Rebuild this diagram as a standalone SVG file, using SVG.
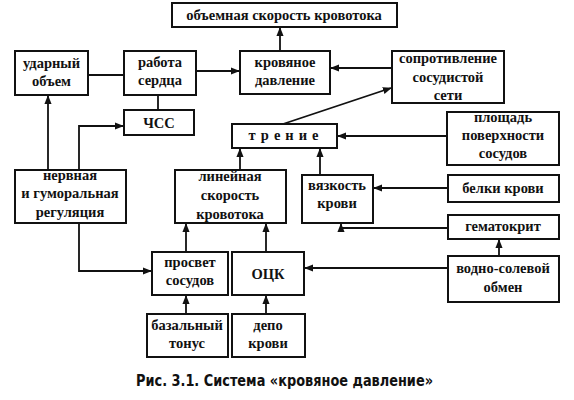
<svg xmlns="http://www.w3.org/2000/svg" width="574" height="400" viewBox="0 0 574 400">
<style>
.box{fill:#fff;stroke:#111;stroke-width:2}
.t{font-family:'Liberation Serif',serif;font-weight:700;font-size:14.5px;fill:#111;text-anchor:middle}
.c{fill:none;stroke:#111;stroke-width:1.8}
.cap{font-family:'DejaVu Sans Condensed','DejaVu Sans',sans-serif;font-size:15px;fill:#111}
</style>
<defs>
<marker id="a" viewBox="0 0 10 10" refX="9" refY="5" markerWidth="5" markerHeight="5" orient="auto" markerUnits="strokeWidth">
<path d="M0,1 L10,5 L0,9 z" fill="#111"/>
</marker>
</defs>
<rect width="574" height="400" fill="#fff"/>
<g id="connectors">
<path class="c" d="M280,51 V28" marker-end="url(#a)"/>
<path class="c" d="M88,75 H124"/>
<path class="c" d="M196,71 H239" marker-end="url(#a)"/>
<path class="c" d="M392,68 H331" marker-end="url(#a)"/>
<path class="c" d="M158,95 V110"/>
<path class="c" d="M79,170 V126 H123" marker-end="url(#a)"/>
<path class="c" d="M48,170 V96" marker-end="url(#a)"/>
<path class="c" d="M283,124 L391,88" marker-end="url(#a)"/>
<path class="c" d="M447,136 H338" marker-end="url(#a)"/>
<path class="c" d="M240,170 V149" marker-end="url(#a)"/>
<path class="c" d="M320,175 V149" marker-end="url(#a)"/>
<path class="c" d="M448,188 H374" marker-end="url(#a)"/>
<path class="c" d="M448,228 H341 V224" marker-end="url(#a)"/>
<path class="c" d="M499,256 V240" marker-end="url(#a)"/>
<path class="c" d="M448,268 H305" marker-end="url(#a)"/>
<path class="c" d="M186,252 V224" marker-end="url(#a)"/>
<path class="c" d="M266,252 V224" marker-end="url(#a)"/>
<path class="c" d="M79,224 V271 H151" marker-end="url(#a)"/>
<path class="c" d="M186,314 V296" marker-end="url(#a)"/>
<path class="c" d="M266,314 V296" marker-end="url(#a)"/>
</g>
<g id="n-flow"><rect class="box" x="172" y="3" width="225" height="24"/><text class="t" x="284" y="20">объемная скорость кровотока</text></g>
<g id="n-stroke"><rect class="box" x="15" y="51" width="73" height="44"/><text class="t" x="51.5" y="68">ударный</text><text class="t" x="51.5" y="86">объем</text></g>
<g id="n-heart"><rect class="box" x="124" y="51" width="72" height="44"/><text class="t" x="160" y="67">работа</text><text class="t" x="160" y="85">сердца</text></g>
<g id="n-bp"><rect class="box" x="240" y="51" width="90" height="43"/><text class="t" x="285" y="67">кровяное</text><text class="t" x="285" y="85">давление</text></g>
<g id="n-res"><rect class="box" x="392" y="51" width="112" height="52"/><text class="t" x="448" y="63">сопротивление</text><text class="t" x="448" y="82">сосудистой</text><text class="t" x="448" y="100">сети</text></g>
<g id="n-hr"><rect class="box" x="124" y="110" width="70" height="25"/><text class="t" x="159" y="128">ЧСС</text></g>
<g id="n-fric"><rect class="box" x="232" y="124" width="105" height="24"/><text class="t" x="286" y="140" letter-spacing="5">трение</text></g>
<g id="n-area"><rect class="box" x="447" y="112" width="112" height="53"/><text class="t" x="503" y="122">площадь</text><text class="t" x="503" y="140">поверхности</text><text class="t" x="503" y="158">сосудов</text></g>
<g id="n-reg"><rect class="box" x="15" y="170" width="111" height="53"/><text class="t" x="70" y="180">нервная</text><text class="t" x="70" y="198">и гуморальная</text><text class="t" x="70" y="217">регуляция</text></g>
<g id="n-lin"><rect class="box" x="175" y="170" width="111" height="53"/><text class="t" x="230" y="181">линейная</text><text class="t" x="230" y="200">скорость</text><text class="t" x="230" y="219">кровотока</text></g>
<g id="n-visc"><rect class="box" x="302" y="175" width="71" height="48"/><text class="t" x="337" y="190">вязкость</text><text class="t" x="337" y="208">крови</text></g>
<g id="n-prot"><rect class="box" x="448" y="175" width="111" height="27"/><text class="t" x="503" y="193">белки крови</text></g>
<g id="n-hct"><rect class="box" x="448" y="215" width="111" height="24"/><text class="t" x="503" y="231">гематокрит</text></g>
<g id="n-water"><rect class="box" x="448" y="256" width="111" height="46"/><text class="t" x="503" y="273">водно-солевой</text><text class="t" x="503" y="292">обмен</text></g>
<g id="n-lumen"><rect class="box" x="152" y="252" width="76" height="43"/><text class="t" x="190" y="267">просвет</text><text class="t" x="190" y="285">сосудов</text></g>
<g id="n-ocv"><rect class="box" x="232" y="252" width="72" height="43"/><text class="t" x="268" y="279" font-size="17">ОЦК</text></g>
<g id="n-basal"><rect class="box" x="147" y="314" width="81" height="43"/><text class="t" x="187" y="330">базальный</text><text class="t" x="187" y="348">тонус</text></g>
<g id="n-depot"><rect class="box" x="232" y="314" width="73" height="43"/><text class="t" x="268" y="330">депо</text><text class="t" x="268" y="348">крови</text></g>
<text class="cap" x="136" y="386" textLength="297" lengthAdjust="spacingAndGlyphs"><tspan font-weight="bold">Рис. 3.1.</tspan><tspan font-weight="bold">  Система «кровяное давление»</tspan></text>
</svg>
